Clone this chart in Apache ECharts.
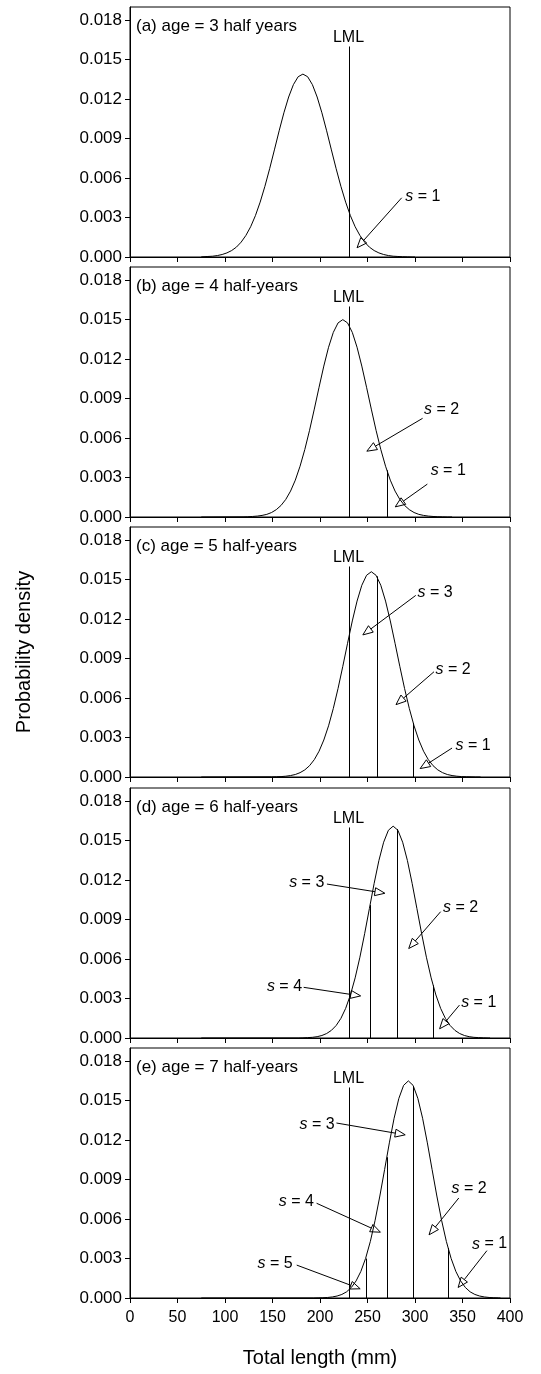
<!DOCTYPE html>
<html><head><meta charset="utf-8">
<script src="https://cdn.jsdelivr.net/npm/echarts@6/dist/echarts.min.js"></script>
<style>html,body{margin:0;padding:0;background:#fff}#c{width:541px;height:1374px}</style>
</head><body><div id="c"></div>
<script>
// ---- data ----
const xTicks = [0, 50, 100, 150, 200, 250, 300, 350, 400];
const yTicks = [0, 0.003, 0.006, 0.009, 0.012, 0.015, 0.018];
const panelTitles = ['(a) age = 3 half years', '(b) age = 4 half-years', '(c) age = 5 half-years', '(d) age = 6 half-years', '(e) age = 7 half-years'];
const lmlLength = 230;
const lmlTop = 0.016;
const lmlText = 'LML';
const lmlLabelY = 0.0167;

const curveA = [[75,0.00001],[77,0.00002],[82,0.00004],[87,0.00006],[92,0.00011],[97,0.00019],[102,0.00031],[107,0.00049],[112,0.00075],[117,0.00113],[122,0.00164],[127,0.00230],[132,0.00314],[137,0.00417],[142,0.00537],[147,0.00671],[152,0.00814],[157,0.00959],[162,0.01096],[167,0.01216],[172,0.01310],[177,0.01370],[182,0.01390],[187,0.01370],[192,0.01310],[197,0.01216],[202,0.01096],[207,0.00959],[212,0.00814],[217,0.00671],[222,0.00537],[227,0.00417],[232,0.00314],[237,0.00230],[242,0.00164],[247,0.00113],[252,0.00075],[257,0.00049],[262,0.00031],[267,0.00019],[272,0.00011],[277,0.00006],[282,0.00004],[287,0.00002],[292,0.00001],[297,0.00000],[300,0]];
const curveB = [[75,0],[119,0.00001],[124,0.00002],[129,0.00004],[134,0.00007],[139,0.00012],[144,0.00020],[149,0.00034],[154,0.00056],[159,0.00088],[164,0.00134],[169,0.00197],[174,0.00280],[179,0.00386],[184,0.00513],[189,0.00659],[194,0.00820],[199,0.00986],[204,0.01147],[209,0.01290],[214,0.01403],[219,0.01475],[224,0.01500],[229,0.01475],[234,0.01403],[239,0.01290],[244,0.01147],[249,0.00986],[254,0.00820],[259,0.00659],[264,0.00513],[269,0.00386],[274,0.00280],[279,0.00197],[284,0.00134],[289,0.00088],[294,0.00056],[299,0.00034],[304,0.00020],[309,0.00012],[314,0.00007],[319,0.00004],[324,0.00002],[329,0.00001],[334,0.00000],[339,0]];
const curveC = [[75,0],[149,0.00001],[154,0.00002],[159,0.00003],[164,0.00006],[169,0.00011],[174,0.00019],[179,0.00033],[184,0.00054],[189,0.00086],[194,0.00132],[199,0.00196],[204,0.00281],[209,0.00389],[214,0.00521],[219,0.00673],[224,0.00841],[229,0.01016],[234,0.01186],[239,0.01337],[244,0.01457],[249,0.01533],[254,0.01560],[259,0.01533],[264,0.01457],[269,0.01337],[274,0.01186],[279,0.01016],[284,0.00841],[289,0.00673],[294,0.00521],[299,0.00389],[304,0.00281],[309,0.00196],[314,0.00132],[319,0.00086],[324,0.00054],[329,0.00033],[334,0.00019],[339,0.00011],[344,0.00006],[349,0.00003],[354,0.00002],[359,0.00001],[364,0.00000],[369,0]];
const curveD = [[75,0],[177,0.00000],[182,0.00001],[187,0.00003],[192,0.00005],[197,0.00010],[202,0.00019],[207,0.00034],[212,0.00058],[217,0.00095],[222,0.00149],[227,0.00225],[232,0.00327],[237,0.00457],[242,0.00614],[247,0.00793],[252,0.00984],[257,0.01175],[262,0.01349],[267,0.01488],[272,0.01579],[277,0.01610],[282,0.01579],[287,0.01488],[292,0.01349],[297,0.01175],[302,0.00984],[307,0.00793],[312,0.00614],[317,0.00457],[322,0.00327],[327,0.00225],[332,0.00149],[337,0.00095],[342,0.00058],[347,0.00034],[352,0.00019],[357,0.00010],[362,0.00005],[367,0.00003],[372,0.00001],[377,0.00000],[379,0]];
const curveE = [[75,0],[193,0.00000],[198,0.00001],[203,0.00002],[208,0.00004],[213,0.00008],[218,0.00015],[223,0.00027],[228,0.00047],[233,0.00080],[238,0.00130],[243,0.00202],[248,0.00301],[253,0.00430],[258,0.00590],[263,0.00775],[268,0.00976],[273,0.01179],[278,0.01366],[283,0.01517],[288,0.01616],[293,0.01650],[298,0.01616],[303,0.01517],[308,0.01366],[313,0.01179],[318,0.00976],[323,0.00775],[328,0.00590],[333,0.00430],[338,0.00301],[343,0.00202],[348,0.00130],[353,0.00080],[358,0.00047],[363,0.00027],[368,0.00015],[373,0.00008],[378,0.00004],[383,0.00002],[388,0.00001],[390,0]];

// vertical class boundaries: [length, height where it meets the curve]
const boundsA = [];
const boundsB = [[270.5, 0.00355]];
const boundsC = [[259.7, 0.01525], [298.4, 0.00410]];
const boundsD = [[252.6, 0.01010], [281.2, 0.01588], [318.9, 0.00400]];
const boundsE = [[247.9, 0.00300], [270.5, 0.01070], [298.4, 0.01610], [335.0, 0.00380]];

// annotations: [s, textX, textY, align, arrowFromX, arrowFromY, arrowTipX, arrowTipY]
const notesA = [['1', 289.7, 0.0046, 'left', 286.0, 0.0045, 239.0, 0.0007]];
const notesB = [['2', 309.5, 0.0082, 'left', 308.0, 0.0075, 249.3, 0.0050],
                ['1', 316.5, 0.0035, 'left', 313.0, 0.0025, 279.2, 0.00077]];
const notesC = [['3', 302.6, 0.01405, 'left', 300.8, 0.0138, 245.1, 0.0108],
                ['2', 321.7, 0.0082, 'left', 320.0, 0.0080, 280.0, 0.0055],
                ['1', 342.6, 0.0024, 'left', 339.0, 0.0022, 305.4, 0.00064]];
const notesD = [['3', 204.5, 0.0118, 'right', 207.3, 0.0117, 268.3, 0.0110],
                ['2', 329.4, 0.0099, 'left', 327.0, 0.0096, 293.4, 0.0068],
                ['4', 181.1, 0.0039, 'right', 182.8, 0.00385, 242.8, 0.0032],
                ['1', 348.6, 0.0027, 'left', 346.8, 0.0025, 325.9, 0.0007]];
const notesE = [['3', 215.5, 0.0132, 'right', 217.3, 0.0133, 289.7, 0.0124],
                ['4', 193.6, 0.0073, 'right', 196.4, 0.0072, 263.6, 0.0050],
                ['2', 338.4, 0.0083, 'left', 346.1, 0.0076, 314.8, 0.0048],
                ['5', 171.3, 0.0026, 'right', 175.5, 0.0025, 242.3, 0.0007],
                ['1', 360.0, 0.0041, 'left', 375.7, 0.0036, 345.4, 0.0008]];

// ---- chart ----
const curves = [curveA, curveB, curveC, curveD, curveE];
const bounds = [boundsA, boundsB, boundsC, boundsD, boundsE];
const notes = [notesA, notesB, notesC, notesD, notesE];
const F = '"Liberation Sans", Arial, Helvetica, sans-serif';
const tops = [7, 267, 527, 788, 1048];
const N = 5;

const chart = echarts.init(document.getElementById('c'), null, {renderer: 'canvas'});

const grid = tops.map(t => ({left: 130, width: 380, top: t, height: 250, show: true, borderColor: '#000', borderWidth: 1, backgroundColor: 'transparent'}));

const xAxis = tops.map((t, i) => ({
  type: 'value', gridIndex: i, min: xTicks[0], max: xTicks[xTicks.length - 1], interval: 50,
  axisLine: {show: true, onZero: false, lineStyle: {color: '#000', width: 1}},
  axisTick: {show: true, inside: false, length: 5, lineStyle: {color: '#000', width: 1}},
  axisLabel: {show: i === N - 1, color: '#000', fontSize: 16, fontFamily: F, margin: 12},
  splitLine: {show: false},
  name: i === N - 1 ? 'Total length (mm)' : '',
  nameLocation: 'middle', nameGap: 50,
  nameTextStyle: {color: '#000', fontSize: 20, fontFamily: F}
}));

const yAxis = tops.map((t, i) => ({
  type: 'value', gridIndex: i, min: 0, max: 0.019, interval: 0.003,
  axisLine: {show: true, onZero: false, lineStyle: {color: '#000', width: 1}},
  axisTick: {show: true, inside: false, length: 5, customValues: yTicks, lineStyle: {color: '#000', width: 1}},
  axisLabel: {show: true, customValues: yTicks, color: '#000', fontSize: 17, fontFamily: F, margin: 8,
              formatter: v => v.toFixed(3)},
  splitLine: {show: false},
  name: i === 2 ? 'Probability density' : '',
  nameLocation: 'middle', nameGap: 96,
  nameTextStyle: {color: '#000', fontSize: 20, fontFamily: F}
}));

const title = panelTitles.map((txt, i) => ({
  text: txt, left: 136, top: tops[i] + 11, padding: 0,
  textStyle: {color: '#000', fontSize: 17, fontWeight: 'normal', fontFamily: F}
}));

const series = [];
for (let i = 0; i < N; i++) {
  series.push({
    type: 'line', xAxisIndex: i, yAxisIndex: i, data: curves[i],
    showSymbol: false, symbol: 'none', smooth: false, silent: true,
    lineStyle: {color: '#000', width: 1}, animation: false
  });
  const vl = [[lmlLength, lmlTop]].concat(bounds[i]);
  series.push({
    type: 'custom', xAxisIndex: i, yAxisIndex: i, data: vl, silent: true, animation: false,
    renderItem: function (params, api) {
      const d = vl[params.dataIndex];
      const p0 = api.coord([d[0], 0]);
      const p1 = api.coord([d[0], d[1]]);
      const ch = [{type: 'line', shape: {x1: Math.round(p0[0]) + 0.5, y1: p0[1], x2: Math.round(p0[0]) + 0.5, y2: p1[1]},
                   style: {stroke: '#000', lineWidth: 1}}];
      if (params.dataIndex === 0) {
        const pl = api.coord([d[0], lmlLabelY]);
        ch.push({type: 'text', x: pl[0], y: pl[1],
                 style: {text: lmlText, fill: '#000', fontSize: 16, fontFamily: F, align: 'center', verticalAlign: 'middle'}});
      }
      return {type: 'group', children: ch};
    }
  });
  const nt = notes[i];
  series.push({
    type: 'custom', xAxisIndex: i, yAxisIndex: i, data: nt.map(n => [n[1], n[2]]), silent: true, animation: false, clip: false,
    renderItem: function (params, api) {
      const n = nt[params.dataIndex];
      const t = api.coord([n[1], n[2]]);
      const a = api.coord([n[4], n[5]]);
      const b = api.coord([n[6], n[7]]);
      const ang = Math.atan2(b[1] - a[1], b[0] - a[0]);
      const L = 10, W = 4;
      const bx = b[0] - L * Math.cos(ang), by = b[1] - L * Math.sin(ang);
      const px = -Math.sin(ang) * W, py = Math.cos(ang) * W;
      return {type: 'group', children: [
        {type: 'line', shape: {x1: a[0], y1: a[1], x2: bx, y2: by}, style: {stroke: '#000', lineWidth: 1}},
        {type: 'polygon', shape: {points: [[b[0], b[1]], [bx + px, by + py], [bx - px, by - py]]},
         style: {stroke: '#000', fill: 'none', lineWidth: 1}},
        {type: 'text', x: t[0], y: t[1],
         style: {text: '{i|s} = ' + n[0], fill: '#000', fontSize: 16, fontFamily: F, align: n[3], verticalAlign: 'middle',
                 rich: {i: {fontStyle: 'italic', fontSize: 16, fontFamily: F, fill: '#000'}}}}
      ]};
    }
  });
}

chart.setOption({animation: false, backgroundColor: '#fff', title, grid, xAxis, yAxis, series});
</script>
</body></html>
